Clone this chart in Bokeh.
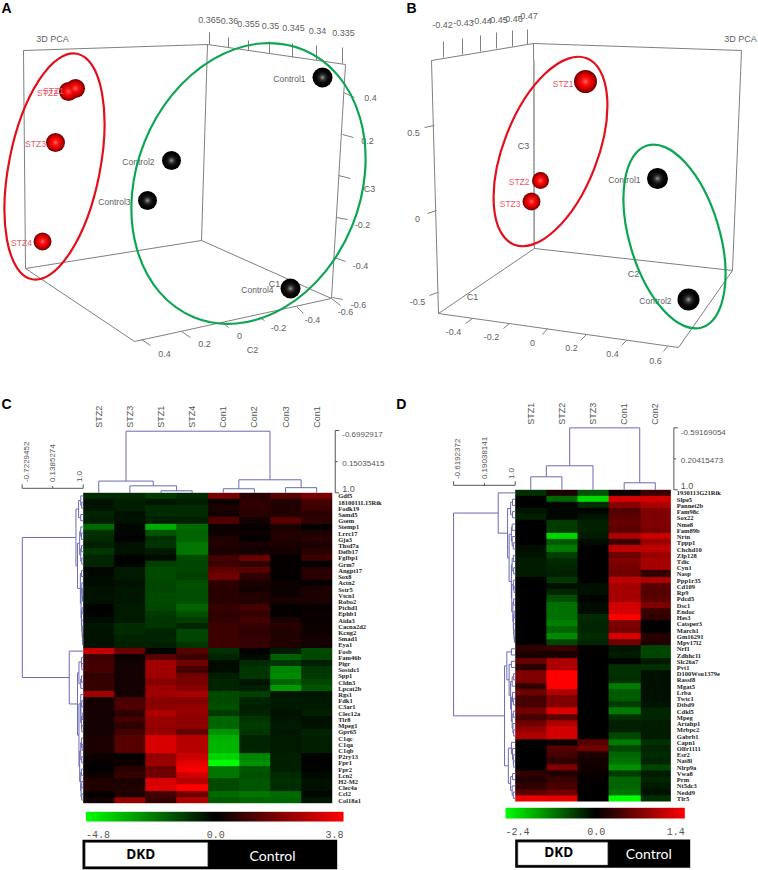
import math
import numpy as np
from bokeh.plotting import figure
from bokeh.models import Range1d, LinearColorMapper
from bokeh.layouts import gridplot
from bokeh.core.properties import value
from bokeh.embed import file_html
from bokeh.resources import INLINE

# ---------- DATA: PCA panels (in panel pixels) ----------
a_stz_names = ["STZ1", "STZ2", "STZ3", "STZ4"]
a_stz_x = [75, 68, 55, 42]
a_stz_y = [88, 91, 142, 241]
a_ctl_names = ["Control1", "Control2", "Control3", "Control4"]
a_ctl_x = [322, 171, 147, 290]
a_ctl_y = [77, 160, 200, 288]

b_stz_names = ["STZ1", "STZ2", "STZ3"]
b_stz_x = [205, 160, 151]
b_stz_y = [81, 180, 201]
b_ctl_names = ["Control1", "Control2"]
b_ctl_x = [277, 308]
b_ctl_y = [178, 299]

a_top_ticks = ["0.365", "0.36", "0.355", "0.35", "0.345", "0.34", "0.335"]
a_right_ticks = ["0.4", "0.2", "C3", "-0.2", "-0.4", "-0.6"]
a_bottom_ticks = ["0.4", "0.2", "0", "-0.2", "-0.4", "-0.6"]
b_top_ticks = ["-0.42", "-0.43", "-0.44", "-0.45", "-0.46", "-0.47"]
b_left_ticks = ["0.5", "0", "-0.5"]
b_bottom_ticks = ["-0.4", "-0.2", "0", "0.2", "0.4", "0.6"]

# ---------- DATA: heat map C ----------
c_samples = ["STZ2", "STZ3", "STZ1", "STZ4", "Con1", "Con2", "Con3", "Con1"]
c_genes = ["Gdf5", "1810011L15Rik", "Fodk19", "Samd5", "Gsem", "Stemp1", "Lrrc17", "Gja3", "Thsd7a", "Defb17",
           "Fgfbp1", "Grm7", "Angpt17", "Sox8", "Actn2", "Sstr5", "Vtcn1", "Robo2", "Ptchd1", "Ephb1",
           "Aida3", "Cacna2d2", "Kcng2", "Smad1", "Eya1", "Fosb", "Fam46b", "Pigr", "Sostdc1", "Spp1",
           "Cldn3", "Lpcat2b", "Rgs1", "Fdk1", "C3ar1", "Clec12a", "Tlr8", "Mpeg1", "Gpr65", "C1qc",
           "C1qa", "C1qb", "P2ry13", "Fpr1", "Fpr2", "Lcn2", "H2-M2", "Clec4a", "Ccl2", "Col18a1"]
c_values = [
 [-0.8,-0.8,-1.1,-0.8,1.8,0.6,1.3,1.8],
 [-0.3,-0.6,-0.4,-0.6,0.2,0.7,0.5,1.0],
 [-0.4,-0.6,-0.8,-0.8,0.4,0.7,0.5,0.9],
 [-0.7,-0.3,-0.8,-0.8,0.3,0.6,0.5,0.6],
 [-0.6,-0.3,-0.6,-0.6,1.2,0.3,1.3,0.7],
 [-2.0,-0.1,-3.2,-2.0,0.2,0.1,0.4,0.05],
 [-0.9,-0.1,-1.6,-1.9,0.2,0.2,0.5,0.4],
 [-0.8,0.0,-0.9,-1.9,0.5,0.05,0.5,0.6],
 [-0.6,-0.3,-1.0,-2.2,0.5,0.4,0.4,0.4],
 [-1.0,-0.3,-0.5,-2.2,0.4,0.3,0.3,0.6],
 [-0.7,-0.05,-0.2,-1.4,1.0,1.6,0.1,0.9],
 [-0.7,-0.05,-1.2,-1.3,0.9,0.7,0.05,0.05],
 [-0.1,-0.5,-1.4,-1.3,1.4,1.3,0.05,0.6],
 [-0.2,-0.5,-1.4,-1.2,1.7,0.7,0.05,0.6],
 [-0.2,-0.3,-1.3,-1.5,0.7,0.4,0.2,0.1],
 [-0.3,-0.4,-1.3,-1.5,0.6,0.3,0.2,0.4],
 [-0.3,-0.4,-1.4,-1.5,0.6,0.5,0.2,0.4],
 [-0.3,-0.4,-1.4,-1.5,0.6,0.5,0.4,0.4],
 [-0.05,-0.5,-1.3,-1.9,0.8,1.0,0.05,0.1],
 [-0.05,-0.5,-1.1,-1.5,0.7,0.8,0.05,0.2],
 [-0.2,-0.5,-1.0,-1.2,0.7,1.0,0.4,0.1],
 [-0.4,-0.8,-1.0,-0.7,0.9,0.8,0.6,0.2],
 [-0.3,-0.8,-0.7,-1.3,0.9,0.7,0.5,0.2],
 [-0.3,-0.7,-0.7,-1.3,0.9,0.8,0.5,0.3],
 [-0.3,-0.6,-0.6,-1.0,0.9,0.8,0.5,0.3],
 [2.9,1.6,-0.05,1.3,-0.9,0.05,-0.5,-1.4],
 [0.9,0.2,1.3,0.9,-0.7,-0.2,-1.8,-1.3],
 [1.0,0.3,2.4,1.7,-0.2,-0.8,-1.0,-0.6],
 [1.0,0.3,2.4,1.0,-0.2,-1.0,-2.5,-1.0],
 [0.7,0.3,2.3,1.7,-0.6,-1.0,-2.6,-1.1],
 [0.8,0.3,2.0,1.8,-0.7,-0.4,-1.9,-1.3],
 [0.8,0.3,2.3,2.0,-0.7,-0.6,-2.9,-1.6],
 [2.4,0.3,2.4,2.5,-1.4,-1.2,-0.4,-0.4],
 [0.3,1.1,2.0,2.0,-1.4,-0.7,-0.5,-0.5],
 [0.3,1.2,2.1,2.2,-1.5,-0.6,-0.5,-0.5],
 [0.3,0.7,2.6,2.2,-1.1,-0.7,-0.3,-0.6],
 [0.3,1.0,2.3,2.1,-1.9,-1.0,-0.4,-0.3],
 [0.3,0.7,2.2,2.1,-1.9,-1.1,-0.5,-0.3],
 [0.3,1.0,2.2,1.5,-2.8,-1.0,-0.4,-0.7],
 [0.4,1.3,3.2,2.7,-3.3,-0.7,-0.5,-0.6],
 [0.4,1.3,3.2,2.7,-3.4,-0.7,-0.5,-0.6],
 [0.4,1.3,3.2,2.7,-3.4,-0.7,-0.5,-0.6],
 [0.2,0.05,2.2,3.0,-4.0,-2.5,-0.6,-0.05],
 [0.05,0.2,2.3,3.4,-4.8,-2.7,-0.6,-0.05],
 [0.05,0.6,1.6,3.7,-2.2,-1.6,-0.6,-0.05],
 [0.2,0.8,1.7,3.1,-2.2,-1.5,-0.8,-0.2],
 [0.5,0.4,3.2,2.7,-1.4,-1.6,-0.9,-0.3],
 [0.5,0.5,3.2,3.8,-1.4,-1.6,-0.8,-0.3],
 [0.1,0.4,1.0,1.7,-2.0,-2.2,-2.0,-0.1],
 [0.3,2.2,0.8,2.6,-1.7,-1.9,-1.9,-0.4],
]
c_low, c_high = -4.8, 3.8
c_col_tree = [-0.68, [0.68, 0, [0.81, 1, [0.945, 2, 3]]], [0.645, [0.89, 4, 5], [0.86, 6, 7]]]
c_row_tree = [-0.72,
  [0.795,
    [0.87, [0.93, 0, [0.96, 1, 2]], [0.93, 3, 4]],
    [0.84,
      [0.9, [0.93, 5, [0.95, 6, 7]], [0.93, [0.95, 8, 9], [0.96, 10, 11]]],
      [0.92, [0.95, 12, 13],
        [0.94, [0.96, 14, [0.97, 15, [0.98, 16, 17]]],
          [0.95, [0.97, 18, 19], [0.96, 20, [0.97, 21, [0.98, 22, [0.985, 23, 24]]]]]]]]],
  [0.606, 25,
    [0.84,
      [0.88, [0.95, 26, [0.96, 27, 28]], [0.93, [0.95, 29, 30], 31]],
      [0.88,
        [0.93, 32, [0.93, [0.96, 33, 34], [0.95, [0.97, 35, 36], [0.96, 37, 38]]]],
        [0.9, [0.93, [0.95, 39, [0.97, 40, 41]], [0.96, 42, 43]],
          [0.93, [0.95, 44, 45], [0.94, [0.96, 46, 47], [0.96, 48, 49]]]]]]]]

# ---------- DATA: heat map D ----------
d_samples = ["STZ1", "STZ2", "STZ3", "Con1", "Con2"]
d_genes = ["1930113G21Rik", "Slpe5", "Pannet2b", "Fam98c", "Sox22", "Nme8", "Fam89b", "Nrtn", "Tppp1", "Chchd10",
           "Zfp128", "Tdic", "Cyn1", "Nasp", "Ppp1r35", "Cd109", "Rp9", "Pdcd5", "Dsc1", "Endoc",
           "Hes3", "Catsper3", "March1", "Gm16291", "Mpv17l2", "Nrf1", "Zdhhc11", "Slc26a7", "Pvt1", "D100Wsu1379e",
           "Rassf8", "Mgat5", "Lrba", "Twtc1", "Dtbd9", "Cdkl5", "Mpeg", "Artahp1", "Mrbpc2", "Gabrb1",
           "Capn1", "Olfr1111", "Esr2", "Nat8l", "Nlrp9a", "Vwa8", "Prm", "Nt5dc3", "Nedd9", "Tlr5"]
d_values = [
 [-0.45,0.15,-0.8,0.05,0.33],
 [0,-0.95,-2.05,1.15,1.15],
 [0,-0.05,-0.4,0.75,0.95],
 [-0.2,-0.05,-0.05,0.45,0.7],
 [-0.3,-0.05,-0.2,0.5,0.7],
 [0,-0.55,-0.3,0.55,0.7],
 [0,-0.55,-0.3,0.5,0.65],
 [0,-2.0,-0.25,0.95,1.1],
 [0,-0.85,-0.1,0.33,0.85],
 [-0.12,-1.15,0,1.05,1.05],
 [-0.2,-0.6,0,0.6,0.85],
 [-0.25,-0.4,0,0.7,0.9],
 [-0.25,-0.35,0,0.65,0.9],
 [-0.25,-0.3,0,0.6,0.27],
 [0,-0.5,0,1.05,0.95],
 [0,-0.15,-0.15,0.9,0.5],
 [0,-0.35,-0.15,0.9,0.45],
 [0,-0.75,-0.03,0.9,0.5],
 [0,-1.05,-0.1,1.15,0.7],
 [0,-1.05,-0.1,1.15,0.33],
 [0,-1.05,-0.4,1.4,0.27],
 [0,-1.2,-0.35,0.7,0],
 [0,-0.95,-0.35,0.65,0],
 [0,-1.3,-0.4,1.2,0.22],
 [0,-0.65,-0.35,0.6,0.17],
 [0.27,0.3,0.02,-0.2,-0.65],
 [0.14,0.14,0.02,-0.25,-0.65],
 [0.55,0.95,0,-0.03,-0.25],
 [0.22,0.95,0,-0.45,-0.45],
 [0.7,1.4,0,-0.45,-0.15],
 [0.7,1.4,0,-0.45,-0.15],
 [0.27,1.4,0,-1.15,-0.15],
 [0.6,0.95,0,-0.85,-0.15],
 [0.38,0.7,0,-0.85,-0.15],
 [0.38,0.7,0,-0.55,-0.2],
 [0.6,1.2,0,-1.15,-0.35],
 [0.38,0.5,0,-0.45,-0.35],
 [0.6,0.95,0,-0.3,-0.25],
 [0.8,1.15,0,-0.3,-0.25],
 [0.95,1.15,0,-0.65,-0.25],
 [0.03,0.05,0.5,-1.15,-0.45],
 [0,0.45,0.6,-0.65,-0.35],
 [0,0.38,0.17,-0.95,-0.4],
 [0,0.27,0.11,-1.05,-0.35],
 [0,0.7,0.1,-1.35,-0.65],
 [0.27,0.17,0.05,-0.55,-0.25],
 [0.17,0.33,0.03,-0.95,-0.35],
 [0.27,0.38,0,-0.95,-0.25],
 [0.5,0.6,0,-1.05,-0.15],
 [1.3,1.25,0,-2.4,-0.45],
]
d_low, d_high = -2.4, 1.4
d_col_tree = [-0.59, [0.384, [0.666, 0, 1], 2], [0.82, 3, 4]]
d_row_tree = [-0.62,
  [0.553, 0,
    [0.8, [0.88, [0.93, 1, 2], [0.93, 3, 4]],
      [0.84, [0.9, [0.92, 5, 6], [0.92, 7, [0.95, 8, 9]]],
        [0.9, [0.92, [0.95, 10, 11], [0.96, 12, 13]],
          [0.91, [0.95, 14, [0.97, 15, 16]],
            [0.94, [0.96, 17, 18], [0.95, [0.97, 19, 20], [0.96, 21, [0.97, 22, [0.98, 23, 24]]]]]]]]]],
  [0.72,
    [0.78, [0.9, 25, 26],
      [0.84, [0.9, 27, 28],
        [0.88, [0.92, [0.96, 29, 30], 31],
          [0.9, [0.93, 32, [0.95, 33, 34]], [0.92, [0.95, 35, 36], [0.94, 37, [0.96, 38, 39]]]]]]],
    [0.82, [0.9, 40, [0.93, 41, [0.95, 42, [0.96, 43, 44]]]],
      [0.88, [0.93, 45, 46], [0.92, 47, [0.95, 48, 49]]]]]]

# ---------- STYLE ----------
GREY = "#7f7f7f"
TXT = "#5f5f5f"
RED_E = "#e2101c"
GREEN_E = "#0ca552"
DEND = "#6b6bb5"
SANS = "Liberation Sans"
LEFT_W = 388
RIGHT_W = 370


def make_fig(w, h, xr, yr):
    p = figure(width=w, height=h, x_range=Range1d(*xr), y_range=Range1d(*yr), output_backend="svg",
               toolbar_location=None, min_border=0, outline_line_color=None, background_fill_color="white",
               border_fill_color="white")
    p.axis.visible = False
    p.grid.visible = False
    return p


def label(p, x, y, t, size=9, color=TXT, align="center", font=SANS, style="normal", angle=0, baseline="middle"):
    p.text(x=[x], y=[y], text=[t], text_font=value(font), text_font_size=f"{size}px", text_color=color,
           text_align=align, text_baseline=baseline, text_font_style=style, angle=angle)


def lerp(c0, c1, t):
    return "#%02x%02x%02x" % tuple(round(a + (b - a) * t) for a, b in zip(c0, c1))


def spheres(p, xs, ys, radii, stops):
    n = 10
    for k in range(n):
        t = k / (n - 1)
        frac = 1 - 0.9 * t
        pos = t * (len(stops) - 1)
        i = min(int(pos), len(stops) - 2)
        p.scatter(xs, ys, size=[2 * r * frac for r in radii], fill_color=lerp(stops[i], stops[i + 1], pos - i),
                  line_color=None)


RED_STOPS = [(120, 0, 0), (200, 0, 0), (235, 5, 5), (250, 25, 25), (255, 90, 90)]
BLACK_STOPS = [(0, 0, 0), (6, 6, 6), (16, 16, 16), (50, 50, 50), (140, 140, 140)]


def segs(p, xs0, ys0, xs1, ys1, color=GREY, width=1.0):
    p.segment(xs0, ys0, xs1, ys1, line_color=color, line_width=width)


# ---------- PANEL A ----------
pa = make_fig(LEFT_W, 390, (0, LEFT_W), (390, 0))
segs(pa, [23, 207, 23, 207, 345, 25, 201, 25, 134], [50, 44, 50, 44, 64, 268, 240, 268, 341],
     [207, 345, 25, 201, 331, 201, 331, 134, 331], [44, 64, 268, 240, 298, 240, 298, 341, 298])
segs(pa, [209, 228, 248, 269, 292, 316, 342], [44, 47, 50, 53, 57, 60, 63],
     [209, 228, 248, 269, 292, 316, 342], [32, 37, 40, 41, 43, 45, 47])
segs(pa, [343, 342, 338, 336, 334, 332], [92, 134, 175, 217, 257, 297],
     [354, 353, 350, 347, 345, 342], [97, 137, 178, 219, 261, 299])
segs(pa, [141, 181, 222, 259, 296, 331], [339, 331, 322, 317, 306, 298],
     [150, 190, 228, 264, 303, 340], [345, 337, 327, 320, 313, 305])
for t, x, y in zip(a_top_ticks, [209, 229, 248, 270, 293, 317, 343], [19, 20, 23, 25, 27, 30, 32]):
    label(pa, x, y, t)
for t, x, y in zip(a_right_ticks, [370, 367, 369, 362, 360, 358], [97, 140, 188, 224, 265, 304]):
    label(pa, x, y, t)
for t, x, y in zip(a_bottom_ticks, [164, 204, 239, 278, 312, 345], [353, 343, 335, 327, 319, 311]):
    label(pa, x, y, t)
label(pa, 252, 349, "C2")
label(pa, 274, 283, "C1")
label(pa, 52, 38, "3D PCA", size=9)
spheres(pa, a_stz_x, a_stz_y, [9.5, 9.5, 9.5, 9], RED_STOPS)
spheres(pa, a_ctl_x, a_ctl_y, [10, 9.5, 9.5, 10], BLACK_STOPS)
for t, x, y in zip(a_stz_names, [53, 47, 35, 21], [90, 92, 143, 242]):
    label(pa, x, y, t, size=8.5, color="#ea5a68")
for t, x, y in zip(a_ctl_names, [305, 154, 130, 273], [78, 161, 201, 289]):
    label(pa, x, y, t, size=8.5, align="right")
pa.ellipse([54], [166], width=[91], height=[230], angle=[-math.radians(11.3)], fill_color=None,
           line_color=RED_E, line_width=2.2)
pa.ellipse([248], [183], width=[224], height=[289], angle=[-math.radians(22)], fill_color=None,
           line_color=GREEN_E, line_width=2.2)
label(pa, 1, 7.5, "A", size=14, color="black", align="left", style="bold")

# ---------- PANEL B ----------
pb = make_fig(RIGHT_W, 390, (8, 8 + RIGHT_W), (390, 0))
segs(pb, [51, 153, 51, 153, 361, 58, 154, 58, 298], [60, 43, 60, 43, 50, 313, 248, 313, 347],
     [153, 361, 58, 154, 352, 154, 352, 298, 352], [43, 50, 313, 248, 270, 248, 270, 347, 270])
segs(pb, [153.5], [60], [153.5], [246], color="#a8a8a8", width=1.6)
segs(pb, [63, 82, 100, 116, 132, 147], [57, 54, 51, 48, 46, 44], [63, 82, 100, 116, 132, 147], [41, 38, 35, 32, 30, 29])
segs(pb, [44, 47, 49], [127, 213, 295], [54, 56, 57], [125, 210, 292])
segs(pb, [85, 123, 162, 200, 241, 283], [323, 328, 334, 340, 345, 351], [92, 129, 167, 206, 246, 287], [318, 323, 328, 334, 340, 346])
for t, x, y in zip(b_top_ticks, [62, 83, 101, 117, 132, 147], [24, 22, 20, 19, 18, 15]):
    label(pb, x, y, t)
for t, x, y in zip(b_left_ticks, [33, 37, 37], [132, 218, 301]):
    label(pb, x, y, t)
for t, x, y in zip(b_bottom_ticks, [73, 111, 152, 191, 232, 275], [331, 336, 342, 347, 353, 360]):
    label(pb, x, y, t)
label(pb, 143, 145, "C3")
label(pb, 92, 296, "C1")
label(pb, 253, 273, "C2")
label(pb, 360, 38, "3D PCA")
spheres(pb, b_stz_x, b_stz_y, [11.5, 8.5, 9], RED_STOPS)
spheres(pb, b_ctl_x, b_ctl_y, [10.5, 11], BLACK_STOPS)
for t, x, y in zip(b_stz_names, [193, 149, 140], [83, 181, 203]):
    label(pb, x, y, t, size=8.5, color="#ea5a68", align="right")
for t, x, y in zip(b_ctl_names, [260, 291], [179, 300]):
    label(pb, x, y, t, size=8.5, align="right")
pb.ellipse([170], [151], width=[94], height=[200], angle=[-math.radians(21.3)], fill_color=None,
           line_color=RED_E, line_width=2.2)
pb.ellipse([294], [236], width=[90], height=[190], angle=[math.radians(16.7)], fill_color=None,
           line_color=GREEN_E, line_width=2.2)
label(pb, 26, 7.5, "B", size=14, color="black", align="left", style="bold")


# ---------- HEAT MAPS ----------
def channel_colour(v, lo, hi):
    if v < 0:
        return "#00%02x00" % min(255, round(255 * v / lo))
    return "#%02x0000" % min(255, round(255 * v / hi))


def walk(node, pos, hfun, vertical, out):
    """Return (position, height) of a node and collect its elbow lines."""
    if isinstance(node, int):
        return pos(node), 1.0
    h, a, b = node
    pa_, ha = walk(a, pos, hfun, vertical, out)
    pb_, hb = walk(b, pos, hfun, vertical, out)
    if vertical:
        out.append(([pa_, pa_, pb_, pb_], [hfun(ha), hfun(h), hfun(h), hfun(hb)]))
    else:
        out.append(([hfun(ha), hfun(h), hfun(h), hfun(hb)], [pa_, pa_, pb_, pb_]))
    return (pa_ + pb_) / 2, h


def heat_panel(w, left_px, top_px, col_w, row_h, samples, genes, values, low, high, col_tree, row_tree,
               top_scale, left_scale, top_span, left_span, bar_px, box_px, dkd_px, ctl_px):
    h_px = 480
    n_r, n_c = len(values), len(samples)
    ux = lambda px: (px - left_px) / col_w
    uy = lambda py: n_r - (py - top_px) / row_h
    p = make_fig(w, h_px, (ux(0), ux(w)), (uy(h_px), uy(0)))

    # the palette holds black at zero: green below it, red above it
    palette = [channel_colour(low + (i + 0.5) / 256 * (high - low), low, high) for i in range(256)]
    mapper = LinearColorMapper(palette=palette, low=low, high=high)
    p.image(image=[np.array(values, dtype=float)[::-1]], x=0, y=0, dw=n_c, dh=n_r, color_mapper=mapper)

    # dendrograms
    ctop = top_span / row_h / (1 - top_scale[0])
    cleft = left_span / col_w / (1 - left_scale[0])
    lines = []
    walk(col_tree, lambda i: i + 0.5, lambda h: n_r + (1 - h) * ctop, True, lines)
    walk(row_tree, lambda i: n_r - i - 0.5, lambda h: -(1 - h) * cleft, False, lines)
    p.multi_line([l[0] for l in lines], [l[1] for l in lines], line_color=DEND, line_width=1)

    # top scale (right side)
    sx = ux(left_px + col_w * n_c + 3)
    tick = 4 / col_w
    sc_top = n_r + (1 - top_scale[0]) * ctop
    sc_mid = n_r + (1 - top_scale[1]) * ctop
    p.multi_line([[sx + tick, sx, sx, sx + tick], [sx, sx + tick * 0.6]],
                 [[sc_top, sc_top, n_r, n_r], [sc_mid, sc_mid]], line_color="#555555", line_width=1)
    for v, yy, sz in zip(top_scale, [sc_top - 0.7, sc_mid - 0.3, n_r + 0.6], [8, 8, 9]):
        label(p, sx + 7 / col_w, yy, str(v), size=sz, color="#555555", align="left")

    # left scale
    ly = n_r + 4.5 / row_h
    lx0 = -(1 - left_scale[0]) * cleft
    lx1 = -(1 - left_scale[1]) * cleft
    tk = 4 / row_h
    p.multi_line([[lx0, lx0, 0, 0], [lx1, lx1]], [[ly + tk, ly, ly, ly + tk], [ly, ly + tk * 0.6]],
                 line_color="#555555", line_width=1)
    for v, xx, off in zip(left_scale, [lx0, lx1, 0], [4, 0, -3.4]):
        label(p, xx + off / col_w, ly + 1.0, str(v), size=8, color="#555555", align="left", angle=math.pi / 2)

    # sample and gene labels
    for i, s in enumerate(samples):
        label(p, i + 0.5, uy(top_px - 65), s, size=9, color="#555555", align="left", angle=math.pi / 2)
    for i, g in enumerate(genes):
        label(p, n_c + 6 / col_w, n_r - i - 0.5, g, size=6.5, color="#222222", align="left",
              font="Liberation Serif", style="bold")

    # colour bar
    bx0, bx1, by0, by1 = bar_px
    steps = 60
    bar_v = [low * (steps - i - 0.5) / steps for i in range(steps)] + [high * (i + 0.5) / steps for i in range(steps)]
    p.image(image=[np.array([bar_v], dtype=float)], x=ux(bx0), y=uy(by1), dw=ux(bx1) - ux(bx0),
            dh=uy(by0) - uy(by1), color_mapper=mapper)
    lab_y = uy(by1 + 12.5)
    label(p, ux(bx0), lab_y, f"{low}", size=10, color="#555555", align="left", font="Liberation Mono")
    label(p, (ux(bx0) + ux(bx1)) / 2 + 1 / col_w, lab_y, "0.0", size=10, color="#555555", font="Liberation Mono")
    label(p, ux(bx1), lab_y, f"{high}", size=10, color="#555555", align="right", font="Liberation Mono")

    # DKD / Control box
    x0, x1, xm, y0, y1 = box_px
    p.quad(left=[ux(x0)], right=[ux(x1)], bottom=[uy(y1)], top=[uy(y0)], fill_color="black", line_color=None)
    p.quad(left=[ux(x0 + 2.7)], right=[ux(xm)], bottom=[uy(y1 - 2.7)], top=[uy(y0 + 2.7)], fill_color="white",
           line_color="#666666", line_width=0.5)
    label(p, ux(dkd_px[0]), uy(dkd_px[1]), "DKD", size=13.5, color="black", font="Open Sans", style="bold")
    label(p, ux(ctl_px[0]), uy(ctl_px[1]), "Control", size=14, color="white", font="Lato")
    return p, ux, uy


pc, cx, cy = heat_panel(LEFT_W, 82.7, 102.3, 31.13, 6.208, c_samples, c_genes, c_values, c_low, c_high, c_col_tree,
                        c_row_tree, (-0.6992917, 0.15035415, 1.0), (-0.7229452, 0.1385274, 1.0), 62.3, 61,
                        (85.5, 343, 421.3, 431), (82, 336.7, 207.3, 449.3, 478.7), (140.3, 463.3), (272, 465))
label(pc, cx(1), cy(13), "C", size=14, color="black", align="left", style="bold")

pd_, dx_, dy_ = heat_panel(RIGHT_W, 126.7, 99.3, 31.13, 6.234, d_samples, d_genes, d_values, d_low, d_high, d_col_tree,
                           d_row_tree, (-0.59169054, 0.20415473, 1.0), (-0.6192372, 0.19038141, 1.0), 62, 61.6,
                           (117, 296.3, 417.3, 428), (126.7, 301.7, 219.3, 449, 477.3), (170.3, 461.7), (260.3, 463.3))
label(pd_, dx_(7.7), dy_(13), "D", size=14, color="black", align="left", style="bold")

grid = gridplot([[pa, pb], [pc, pd_]], toolbar_location=None)
grid.styles = {"position": "absolute", "left": "0px", "top": "0px"}

open("out.html", "w").write(file_html(grid, INLINE))
